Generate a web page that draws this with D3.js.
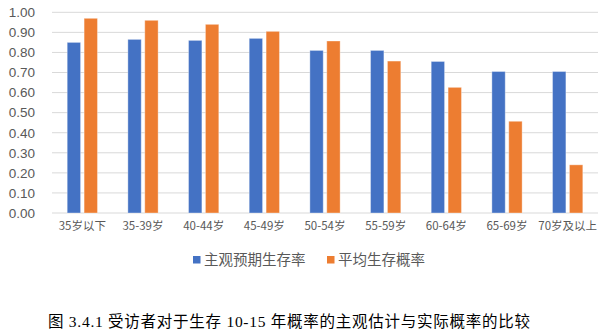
<!DOCTYPE html>
<html><head><meta charset="utf-8">
<script src="https://cdn.jsdelivr.net/npm/d3@7/dist/d3.min.js"></script>
<style>body{margin:0;background:#fff;}svg{display:block;}</style>
</head><body><svg id="c" width="605" height="331"></svg>
<script>
const categories = ["35岁以下","35-39岁","40-44岁","45-49岁","50-54岁","55-59岁","60-64岁","65-69岁","70岁及以上"];
const seriesNames = ["主观预期生存率","平均生存概率"];
const subjective = [0.85,0.865,0.86,0.87,0.81,0.81,0.755,0.705,0.705];
const actual = [0.97,0.96,0.94,0.905,0.857,0.757,0.626,0.457,0.24];
const yTicks = [0,0.1,0.2,0.3,0.4,0.5,0.6,0.7,0.8,0.9,1.0];
const colors = ["#4472C4","#ED7D31"];
const caption = "图 3.4.1  受访者对于生存 10-15 年概率的主观估计与实际概率的比较";

const svg = d3.select("#c");
const x = d3.scaleBand().domain(categories).range([52,598]);
const y = d3.scaleLinear().domain([0,1]).range([213,12.3]);
const sub = d3.scaleBand().domain([0,1]).range([0,x.bandwidth()]).paddingInner(0.21).paddingOuter(0.9);

// gridlines
svg.append("g").selectAll("line").data(yTicks).join("line")
  .attr("x1",52).attr("x2",598)
  .attr("y1",d=>y(d)).attr("y2",d=>y(d))
  .attr("stroke","#D9D9D9").attr("stroke-width",1);

// y axis labels
const yAxis = d3.axisLeft(y).tickValues(yTicks).tickFormat(d3.format(".2f")).tickSize(0).tickPadding(0);
const ya = svg.append("g").attr("transform","translate(35,0)").call(yAxis);
ya.select(".domain").remove();
ya.selectAll("text").attr("fill","#595959").style("font-family","Liberation Sans, Arial, sans-serif").style("font-size","13.5px");

// bars
const data = [subjective, actual];
data.forEach((vals,si)=>{
  svg.append("g").selectAll("rect").data(vals).join("rect")
    .attr("x",(d,i)=>x(categories[i])+sub(si))
    .attr("width",sub.bandwidth())
    .attr("y",d=>y(d))
    .attr("height",d=>y(0)-y(d))
    .attr("fill",colors[si])
    .attr("stroke","#fff").attr("stroke-opacity",0.35).attr("stroke-width",1);
});

// x axis labels
const xAxis = d3.axisBottom(x).tickSize(0).tickPadding(0);
const xa = svg.append("g").attr("transform","translate(0,222)").call(xAxis);
xa.select(".domain").remove();
xa.selectAll("text").attr("fill","#595959").attr("dy","0.71em")
  .style("font-family","Noto Sans CJK SC, sans-serif").style("font-size","11.5px");

// legend
const legendX = [193,327];
seriesNames.forEach((n,i)=>{
  svg.append("rect").attr("x",legendX[i]).attr("y",256).attr("width",7.5).attr("height",7.5).attr("fill",colors[i]);
  svg.append("text").attr("x",legendX[i]+11).attr("y",260).attr("dy","0.35em")
    .attr("fill","#595959").style("font-family","Noto Sans CJK SC, sans-serif").style("font-size","14.5px").text(n);
});

// caption
svg.append("text").attr("x",48).attr("y",322).attr("dy","0.35em")
  .attr("textLength",482).attr("lengthAdjust","spacing")
  .attr("fill","#000").style("font-family","Liberation Serif, Noto Sans CJK SC, serif").style("font-size","15.5px")
  .text(caption);
</script></body></html>
